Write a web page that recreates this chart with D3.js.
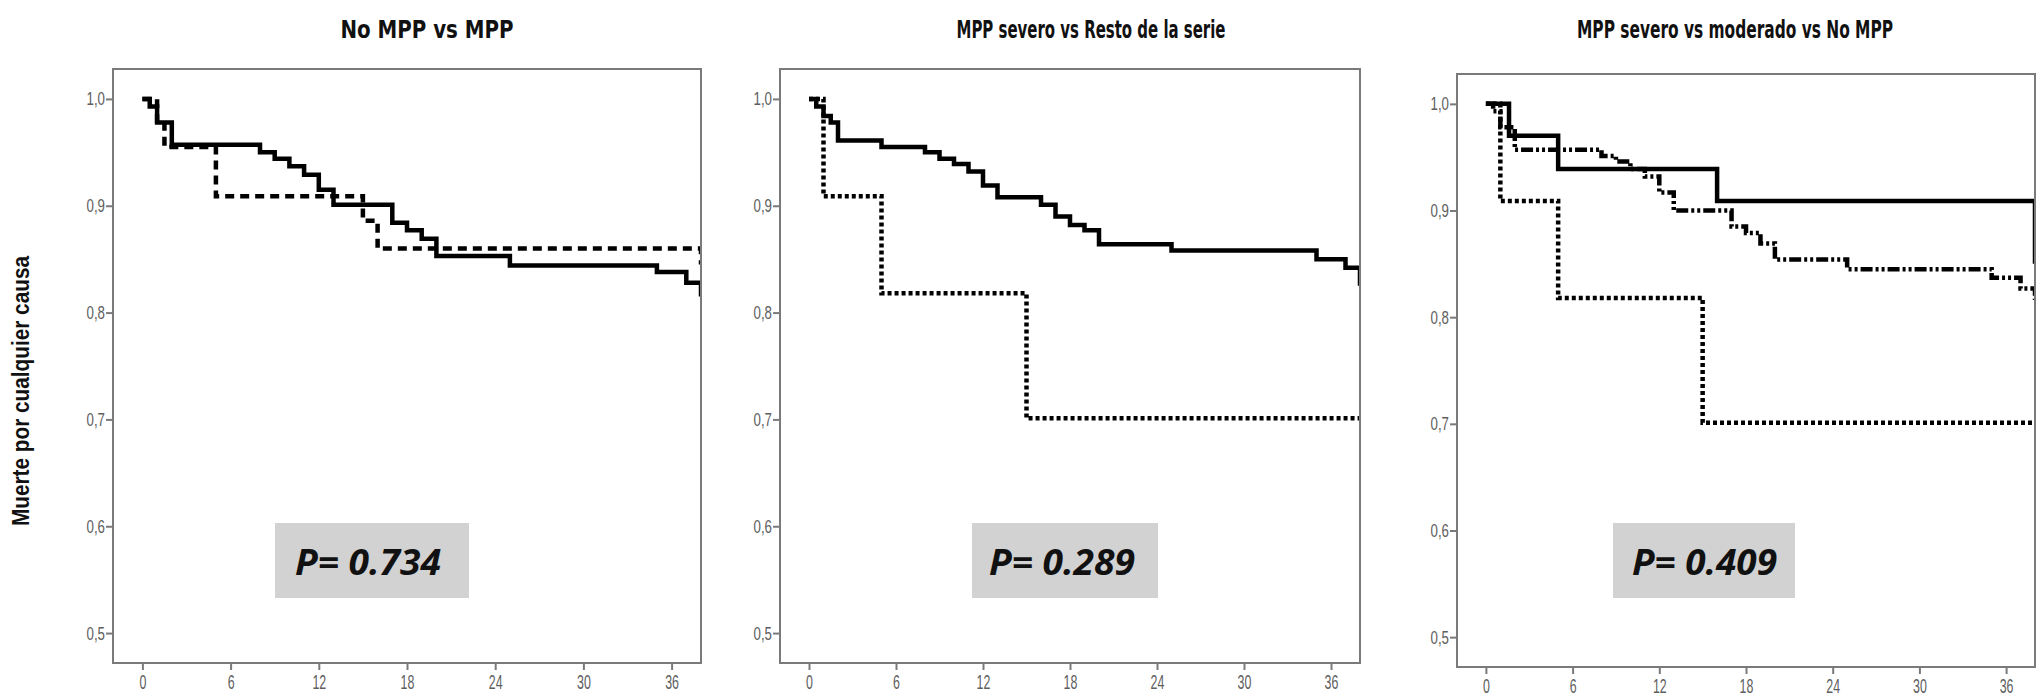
<!DOCTYPE html>
<html>
<head>
<meta charset="utf-8">
<script src="https://cdn.jsdelivr.net/npm/d3@7"></script>
<style>
body { margin: 0; background: #fff; }
</style>
</head>
<body>
<div id="chart"></div>
<script>
// chart values
var panelTitles = ["No MPP vs MPP", "MPP severo vs Resto de la serie", "MPP severo vs moderado vs No MPP"];
var pLabels = ["P= 0.734", "P= 0.289", "P= 0.409"];
var yAxisLabel = "Muerte por cualquier causa";
var xTicks = [0, 6, 12, 18, 24, 30, 36];
var yTicks = [0.5, 0.6, 0.7, 0.8, 0.9, 1.0];

// [month, survival]
var noMpp1 = [[0, 1.0], [0.5, 0.993], [1, 0.978], [2, 0.957], [8, 0.950], [9, 0.944], [10, 0.937],
    [11, 0.929], [12, 0.915], [13, 0.901], [17, 0.884], [18, 0.877], [19, 0.869], [20, 0.853],
    [25, 0.844], [35, 0.838], [37, 0.828], [38, 0.815]];
var mpp1 = [[0, 1.0], [1, 0.977], [1.5, 0.955], [5, 0.909], [15, 0.886], [16, 0.860], [38, 0.845]];

var resto2 = [[0, 1.0], [0.5, 0.993], [1, 0.984], [1.5, 0.978], [2, 0.961], [5, 0.955], [8, 0.950],
    [9, 0.944], [10, 0.939], [11, 0.932], [12, 0.919], [13, 0.908], [16, 0.901], [17, 0.890],
    [18, 0.882], [19, 0.877], [20, 0.864], [25, 0.858], [35, 0.850], [37, 0.842], [38, 0.825]];
var severo2 = [[0, 1.0], [1, 0.909], [5, 0.818], [15, 0.701], [38, 0.701]];

var moderado3 = [[0, 1.0], [1.6, 0.970], [5, 0.939], [16, 0.909], [38, 0.850]];
var noMpp3 = [[0, 1.0], [0.5, 0.993], [1, 0.978], [2, 0.957], [8, 0.951], [9, 0.946], [10, 0.939],
    [11, 0.932], [12, 0.917], [13, 0.900], [17, 0.885], [18, 0.879], [19, 0.869], [20, 0.854],
    [25, 0.845], [35, 0.837], [37, 0.827], [38, 0.816]];
var severo3 = [[0, 1.0], [1, 0.909], [5, 0.818], [15, 0.701], [38, 0.701]];

// line styles
var solid = null;
var dashed = "9,6";
var dotted = "4,3";
var dashDotDot = "12,3,3,3,3,3";

var width = 2037;
var height = 699;

var panels = [
    {left: 113, right: 701, top: 69, bottom: 663, titleX: 427, titleW: 173,
     boxX: 275, boxW: 194, textX: 295, textW: 146,
     series: [{data: mpp1, dash: dashed}, {data: noMpp1, dash: solid}]},
    {left: 780, right: 1360, top: 69, bottom: 663, titleX: 1091, titleW: 269,
     boxX: 972, boxW: 186, textX: 989, textW: 146,
     series: [{data: severo2, dash: dotted}, {data: resto2, dash: solid}]},
    {left: 1457, right: 2035, top: 74, bottom: 667, titleX: 1735, titleW: 316,
     boxX: 1613, boxW: 182, textX: 1632, textW: 145,
     series: [{data: severo3, dash: dotted}, {data: noMpp3, dash: dashDotDot}, {data: moderado3, dash: solid}]}
];

var svg = d3.select("#chart")
    .append("svg")
    .attr("width", width)
    .attr("height", height)
    .style("display", "block");

svg.append("rect")
    .attr("width", width)
    .attr("height", height)
    .style("fill", "#fff");

// y axis title, shared
svg.append("text")
    .attr("transform", "translate(29,391) rotate(-90)")
    .attr("text-anchor", "middle")
    .attr("textLength", 270)
    .attr("lengthAdjust", "spacingAndGlyphs")
    .style("font-family", "'Liberation Sans', Arial, sans-serif")
    .style("font-weight", "bold")
    .style("font-size", "23px")
    .style("fill", "#111")
    .text(yAxisLabel);

var fmt = function (d) { return d3.format(".1f")(d).replace(".", ","); };

panels.forEach(function (p, i) {
    var x = d3.scaleLinear().domain([-2, 38]).range([p.left, p.right]);
    var y = d3.scaleLinear().domain([0.472, 1.028]).range([p.bottom, p.top]);

    // title
    svg.append("text")
        .attr("x", p.titleX)
        .attr("y", 38)
        .attr("text-anchor", "middle")
        .attr("textLength", p.titleW)
        .attr("lengthAdjust", "spacingAndGlyphs")
        .style("font-family", "'Liberation Sans Narrow', 'DejaVu Sans Condensed', 'Liberation Sans', sans-serif")
        .style("font-weight", "bold")
        .style("font-size", "25px")
        .style("fill", "#111")
        .text(panelTitles[i]);

    // y axis
    var gy = svg.append("g")
        .attr("transform", "translate(" + p.left + ",0)")
        .call(d3.axisLeft(y).tickValues(yTicks).tickFormat(fmt).tickSize(7).tickPadding(1));
    gy.select(".domain").remove();
    gy.selectAll("line").style("stroke", "#7a7a7a").style("stroke-width", 2);
    gy.selectAll("text")
        .attr("x", -8 / 0.7)
        .attr("transform", "scale(0.7,1)")
        .style("font-family", "'Liberation Sans', Arial, sans-serif")
        .style("font-size", "19px")
        .style("fill", "#5e5e5e");

    // x axis
    var gx = svg.append("g")
        .attr("transform", "translate(0," + p.bottom + ")")
        .call(d3.axisBottom(x).tickValues(xTicks).tickSize(7).tickPadding(5));
    gx.select(".domain").remove();
    gx.selectAll("line").style("stroke", "#7a7a7a").style("stroke-width", 2);
    gx.selectAll("text")
        .attr("transform", "scale(0.62,1)")
        .style("font-family", "'Liberation Sans', Arial, sans-serif")
        .style("font-size", "20px")
        .style("fill", "#5e5e5e");

    // p value box
    svg.append("rect")
        .attr("x", p.boxX)
        .attr("y", 523)
        .attr("width", p.boxW)
        .attr("height", 75)
        .style("fill", "#d2d2d2");

    svg.append("text")
        .attr("x", p.textX)
        .attr("y", 575)
        .attr("textLength", p.textW)
        .attr("lengthAdjust", "spacingAndGlyphs")
        .style("font-family", "'Open Sans', sans-serif")
        .style("font-weight", "bold")
        .style("font-style", "italic")
        .style("font-size", "36px")
        .style("fill", "#111")
        .text(pLabels[i]);

    // curves, clipped to the frame
    var clipId = "clip" + i;
    svg.append("clipPath")
        .attr("id", clipId)
        .append("rect")
        .attr("x", p.left)
        .attr("y", p.top)
        .attr("width", p.right - p.left)
        .attr("height", p.bottom - p.top);

    var line = d3.line()
        .x(function (d) { return x(d[0]); })
        .y(function (d) { return y(d[1]); })
        .curve(d3.curveStepAfter);

    var curves = svg.append("g").attr("clip-path", "url(#" + clipId + ")");
    p.series.forEach(function (s) {
        curves.append("path")
            .attr("d", line(s.data))
            .style("fill", "none")
            .style("stroke", "#000")
            .style("stroke-width", 4.5)
            .style("stroke-dasharray", s.dash);
    });

    // frame
    svg.append("rect")
        .attr("x", p.left)
        .attr("y", p.top)
        .attr("width", p.right - p.left)
        .attr("height", p.bottom - p.top)
        .style("fill", "none")
        .style("stroke", "#7a7a7a")
        .style("stroke-width", 2);
});
</script>
</body>
</html>
